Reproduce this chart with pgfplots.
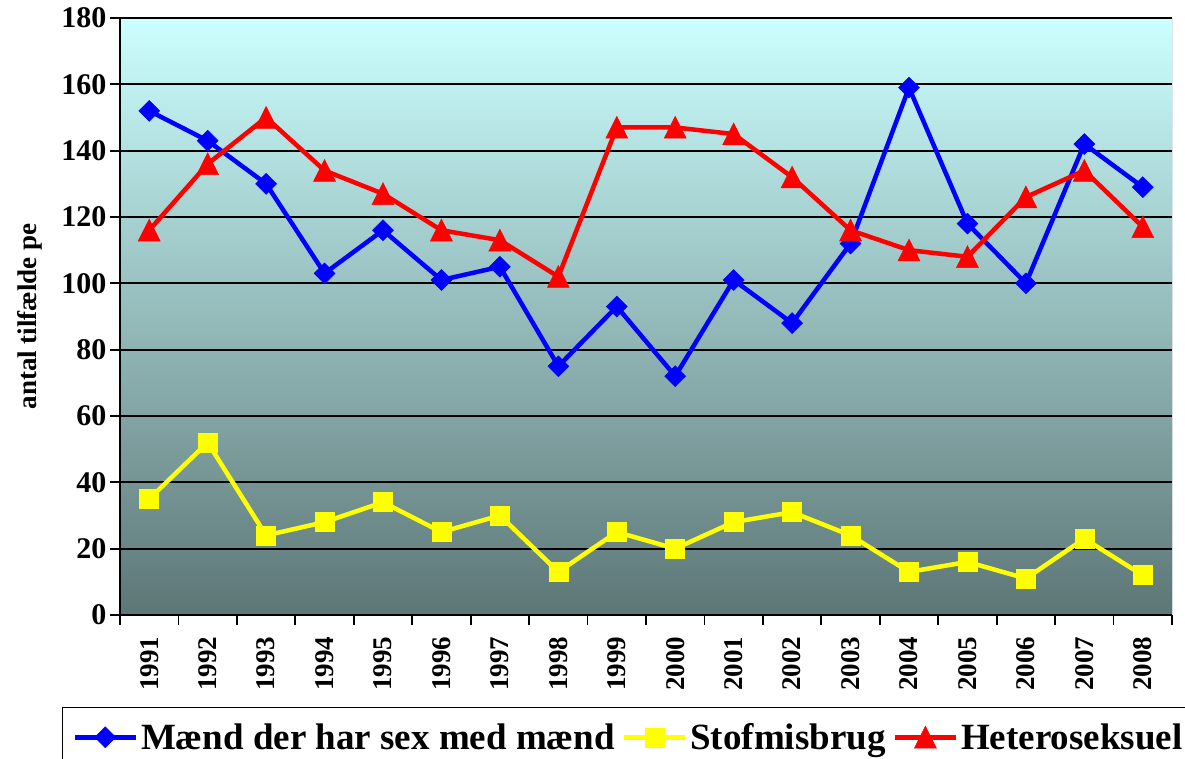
\documentclass[border=0pt]{standalone}
\usepackage{pgfplots}
\pgfplotsset{compat=1.18}
\usepackage{fontspec}
\setmainfont{Liberation Serif}
\definecolor{topc}{RGB}{204,255,255}
\definecolor{botc}{RGB}{93,118,118}
\definecolor{mblue}{RGB}{0,0,255}
\definecolor{myellow}{RGB}{255,255,0}
\definecolor{mred}{RGB}{255,0,0}
\begin{document}
\begin{tikzpicture}
\path[use as bounding box] (-120pt,-144pt) rectangle (1065pt,615pt);
\begin{axis}[
  at={(0pt,0pt)}, anchor=south west,
  scale only axis, width=1052pt, height=597pt,
  xmin=0.5, xmax=18.5, ymin=0, ymax=180,
  axis x line*=bottom, axis y line*=left,
  axis line style={black, line width=2pt, -},
  axis background/.style={shade, top color=topc, bottom color=botc},
  ytick={0,20,...,180},
  ymajorgrids, major grid style={black, line width=1.8pt},
  xtick={0.5,1.5,...,18.5},
  x tick label as interval,
  xticklabels={1991,1992,1993,1994,1995,1996,1997,1998,1999,2000,2001,2002,2003,2004,2005,2006,2007,2008},
  tick align=outside, major tick length=10pt,
  tick style={black, line width=1.8pt},
  /pgf/number format/assume math mode=true,
  y tick label style={font=\fontsize{30}{30}\selectfont\bfseries},
  x tick label style={yshift=-8pt, rotate=90, anchor=east, font=\fontsize{27}{27}\selectfont\bfseries},
  ylabel={antal tilfælde pe},
  y label style={at={(axis description cs:-0.0856,0.5)}, anchor=center, font=\fontsize{27}{27}\selectfont\bfseries},
  legend columns=3,
  legend style={at={(-0.0551,-0.1541)}, anchor=north west, draw=black, line width=1pt, fill=white,
    inner xsep=10pt, inner ysep=12pt,
    font=\fontsize{37}{37}\selectfont\bfseries,
    nodes={inner xsep=2pt, inner ysep=4pt},
    /tikz/every odd column/.append style={column sep=1pt},
    /tikz/every even column/.append style={column sep=5pt}},
  legend image code/.code={\draw[mark repeat=2,mark phase=2,#1] plot coordinates {(0pt,0pt) (30.5pt,0pt) (61pt,0pt)};},
]
\addplot[mblue, line width=4.5pt, mark=square*, mark size=7.4pt, mark options={rotate=45, line width=0.5pt, fill=mblue}]
 coordinates {(1,152)(2,143)(3,130)(4,103)(5,116)(6,101)(7,105)(8,75)(9,93)(10,72)(11,101)(12,88)(13,112)(14,159)(15,118)(16,100)(17,142)(18,129)};
\addlegendentry{Mænd der har sex med mænd}
\addplot[myellow, line width=4.5pt, mark=square*, mark size=9.5pt, mark options={line width=0.5pt, fill=myellow}]
 coordinates {(1,35)(2,52)(3,24)(4,28)(5,34)(6,25)(7,30)(8,13)(9,25)(10,20)(11,28)(12,31)(13,24)(14,13)(15,16)(16,11)(17,23)(18,12)};
\addlegendentry{Stofmisbrug}
\addplot[mred, line width=4.5pt, mark=triangle*, mark size=12.7pt, mark options={yshift=-3.5pt, yscale=1.15, line width=0.5pt, fill=mred}]
 coordinates {(1,116)(2,136)(3,150)(4,134)(5,127)(6,116)(7,113)(8,102)(9,147)(10,147)(11,145)(12,132)(13,116)(14,110)(15,108)(16,126)(17,134)(18,117)};
\addlegendentry{Heteroseksuel}
\draw[black!75, line width=1pt] (rel axis cs:1,0) -- (rel axis cs:1,1);
\end{axis}
\end{tikzpicture}
\end{document}
